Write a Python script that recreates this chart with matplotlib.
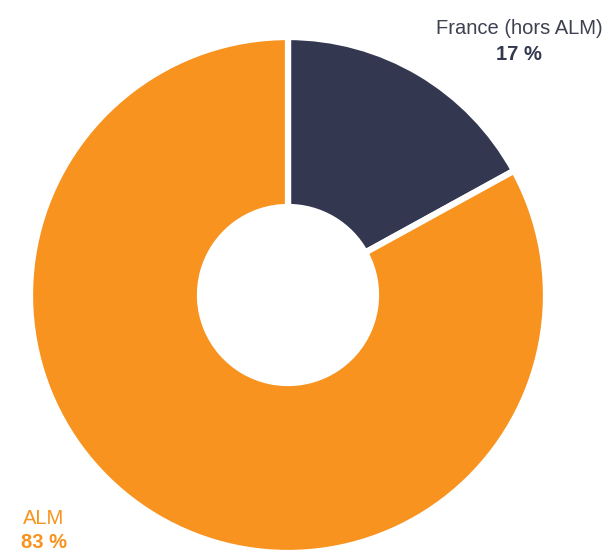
import matplotlib.pyplot as plt

plt.rcParams['font.family'] = ['Liberation Sans', 'DejaVu Sans']

# Data
labels = ['France (hors ALM)', 'ALM']
values = [17, 83]
colors = ['#333850', '#F7931E']
label_colors = ['#3d4150', '#F7931E']
value_colors = ['#333850', '#F7931E']

W, H = 610, 554
fig = plt.figure(figsize=(W / 100, H / 100), dpi=100)
ax = fig.add_axes([0, 0, 1, 1])

cx, cy = 288, H - 295
r_out = 258
r_in = 88
ax.pie(values, colors=colors, startangle=90, counterclock=False,
       center=(cx, cy), radius=r_out, frame=True,
       wedgeprops=dict(width=r_out - r_in, edgecolor='white', linewidth=4.5))
ax.set_xlim(0, W)
ax.set_ylim(0, H)
ax.set_aspect('equal')
ax.axis('off')

# Labels: (x, y of name, y of value) in pixels from top
pos = [(519, 28, 55), (44, 519, 543)]
for (x, y1, y2), lab, val, lc, vc in zip(pos, labels, values, label_colors, value_colors):
    ax.text(x, H - y1, lab, ha='center', va='center', fontsize=14.5, color=lc)
    ax.text(x, H - y2, f'{val} %', ha='center', va='center', fontsize=14.5,
            fontweight='bold', color=vc)

fig.savefig('out.png', dpi=100)
